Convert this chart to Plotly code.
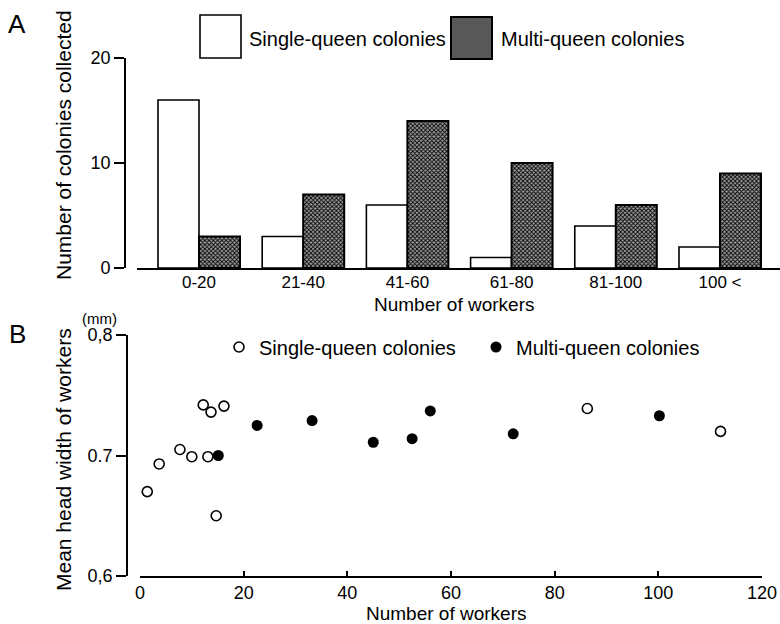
import plotly.graph_objects as go

# ---------- Panel A data ----------
categories = ["0-20", "21-40", "41-60", "61-80", "81-100", "100 <"]
single_counts = [16, 3, 6, 1, 4, 2]
multi_counts = [3, 7, 14, 10, 6, 9]

# ---------- Panel B data ----------
single_x = [1.4, 3.7, 7.7, 10.0, 12.2, 13.7, 13.1, 16.2, 14.7, 86.3, 112.0]
single_y = [0.670, 0.693, 0.705, 0.699, 0.742, 0.736, 0.699, 0.741, 0.650, 0.739, 0.720]
multi_x = [15.1, 22.6, 33.2, 45.0, 52.5, 56.0, 72.0, 100.2]
multi_y = [0.700, 0.725, 0.729, 0.711, 0.714, 0.737, 0.718, 0.733]

FONT = "Liberation Sans"
W, H = 780, 624
HATCH = dict(shape="x", fgcolor="black", bgcolor="#a0a0a0", size=3, solidity=0.5)

def px_x(p):
    return p / W

def px_y(p):
    return (H - p) / H

fig = go.Figure()

fig.add_trace(go.Bar(
    x=categories, y=single_counts, name="Single-queen colonies",
    marker=dict(color="white", line=dict(color="black", width=1.6)),
    xaxis="x", yaxis="y", showlegend=False,
))
fig.add_trace(go.Bar(
    x=categories, y=multi_counts, name="Multi-queen colonies",
    marker=dict(color="#a0a0a0", line=dict(color="black", width=2),
                pattern=HATCH),
    xaxis="x", yaxis="y", showlegend=False,
))

fig.add_trace(go.Scatter(
    x=single_x, y=single_y, mode="markers", name="Single-queen colonies",
    marker=dict(symbol="circle-open", size=10, color="black",
                line=dict(color="black", width=1.6)),
    xaxis="x2", yaxis="y2",
))
fig.add_trace(go.Scatter(
    x=multi_x, y=multi_y, mode="markers", name="Multi-queen colonies",
    marker=dict(symbol="circle", size=11, color="black"),
    xaxis="x2", yaxis="y2",
))

axis_common = dict(showgrid=False, zeroline=False, showline=True,
                   automargin=False,
                   linecolor="black", linewidth=1.6,
                   tickfont=dict(family=FONT, size=18, color="black"),
                   tickcolor="black", tickwidth=1.6)

annotations = [
    dict(text="A", x=px_x(17), y=px_y(24), font=dict(size=26)),
    dict(text="B", x=px_x(17), y=px_y(334), font=dict(size=26)),
    dict(text="Number of colonies collected", x=px_x(64), y=px_y(145),
         textangle=-90, font=dict(size=21)),
    dict(text="Number of workers", x=px_x(454), y=px_y(304), font=dict(size=19)),
    dict(text="Mean head width of workers", x=px_x(63), y=px_y(460),
         textangle=-90, font=dict(size=21)),
    dict(text="(mm)", x=px_x(99), y=px_y(318), font=dict(size=15)),
    dict(text="Number of workers", x=px_x(447), y=px_y(613), font=dict(size=19)),
    dict(text="Single-queen colonies", x=px_x(247), y=px_y(39), xanchor="left",
         font=dict(size=20)),
    dict(text="Multi-queen colonies", x=px_x(499), y=px_y(39), xanchor="left",
         font=dict(size=20)),
]
for a in annotations:
    a.setdefault("xref", "paper")
    a.setdefault("yref", "paper")
    a.setdefault("showarrow", False)
    a.setdefault("xanchor", "center")
    a.setdefault("yanchor", "middle")
    a["font"] = dict(family=FONT, color="black", **a["font"])

shapes = [
    dict(type="rect", xref="paper", yref="paper",
         x0=px_x(200), x1=px_x(241), y0=px_y(58), y1=px_y(15),
         line=dict(color="black", width=1.6), fillcolor="white"),
    dict(type="rect", xref="paper", yref="paper",
         x0=px_x(451), x1=px_x(492), y0=px_y(59), y1=px_y(17),
         line=dict(color="black", width=2), fillcolor="#585858"),
]

fig.update_layout(
    template="none",
    width=W, height=H,
    margin=dict(l=0, r=0, t=0, b=0, pad=0, autoexpand=False),
    paper_bgcolor="white", plot_bgcolor="white",
    barmode="group", bargap=0.213, bargroupgap=0,
    font=dict(family=FONT, color="black"),
    xaxis=dict(axis_common, domain=[px_x(137), 1.0], anchor="y",
               type="category", range=[-0.595, 5.576], ticks="",
               ticklabelstandoff=-2,
               tickfont=dict(family=FONT, size=17, color="black")),
    yaxis=dict(axis_common, domain=[px_y(268), px_y(58)], anchor="free",
               position=px_x(125), range=[0, 20], tickvals=[0, 10, 20],
               ticks="outside", ticklen=10),
    xaxis2=dict(axis_common, domain=[px_x(140), px_x(762)], anchor="y2",
                range=[0, 120], tickvals=[0, 20, 40, 60, 80, 100, 120],
                ticks="inside", ticklen=5),
    yaxis2=dict(axis_common, domain=[px_y(576), px_y(335)], anchor="free",
                position=px_x(127), range=[0.6, 0.8],
                tickvals=[0.6, 0.7, 0.8], ticktext=["0,6", "0.7", "0,8"],
                ticks="outside", ticklen=10),
    legend=dict(orientation="h", x=px_x(219), y=px_y(347),
                xanchor="left", yanchor="middle",
                font=dict(family=FONT, size=20, color="black"),
                bgcolor="rgba(0,0,0,0)", itemwidth=30,
                entrywidth=212, entrywidthmode="pixels"),
    annotations=annotations,
    shapes=shapes,
)

fig.write_html(
    "out.html",
    config={"displayModeBar": False},
    post_script="document.body.style.margin='0';document.body.style.overflow='hidden';",
)
